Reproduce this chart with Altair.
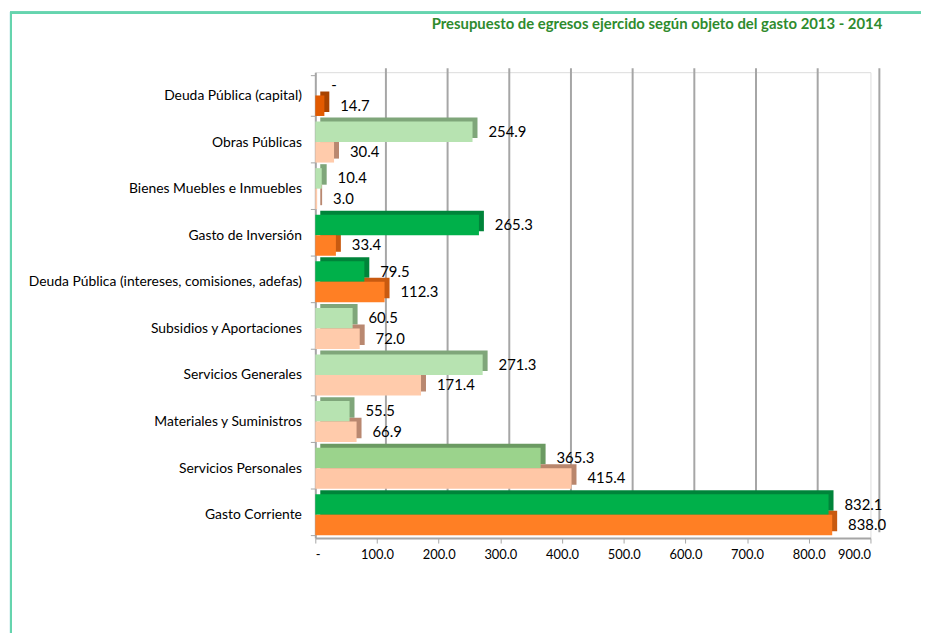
import altair as alt
import pandas as pd

categories = [
    "Deuda Pública (capital)",
    "Obras Públicas",
    "Bienes Muebles e Inmuebles",
    "Gasto de Inversión",
    "Deuda Pública (intereses, comisiones, adefas)",
    "Subsidios y Aportaciones",
    "Servicios Generales",
    "Materiales y Suministros",
    "Servicios Personales",
    "Gasto Corriente",
]
v2013 = [0, 254.9, 10.4, 265.3, 79.5, 60.5, 271.3, 55.5, 365.3, 832.1]
v2014 = [14.7, 30.4, 3.0, 33.4, 112.3, 72.0, 171.4, 66.9, 415.4, 838.0]
tones = ["capital", "light", "light", "dark", "dark", "light", "light", "light", "mid", "dark"]
x_ticks = [0, 100, 200, 300, 400, 500, 600, 700, 800, 900]
title_text = "Presupuesto de egresos ejercido según objeto del gasto 2013 - 2014"

rows = []
for c, a, b, t in zip(categories, v2013, v2014, tones):
    for year, v in (("2013", a), ("2014", b)):
        rows.append(dict(cat=c, year=year, value=v, key=f"{t}-{year}",
                         label="-" if v == 0 else f"{v:.1f}"))
df = pd.DataFrame(rows)
grid_df = pd.DataFrame({"t": x_ticks[1:]})
title_df = pd.DataFrame({"title": [title_text]})

key_domain = ["capital-2013", "capital-2014", "dark-2013", "dark-2014",
              "light-2013", "light-2014", "mid-2013", "mid-2014"]
front_colors = ["#0E7A3C", "#E25A00", "#00B04A", "#FF7F24",
                "#B7E3B1", "#FFCBAB", "#9BD38C", "#FFC7A6"]
side_colors = ["#075A2A", "#A84300", "#00843A", "#C85A10",
               "#7FA67A", "#B98870", "#6B9A62", "#B9866C"]

W, H = 560, 470
FONT = "Lato"
PAD_IN, PAD_OUT = 0.12, 0.06
STEP = H / (len(categories) - PAD_IN + 2 * PAD_OUT)
BAND = STEP * (1 - PAD_IN)
DEPTH_X, DEPTH_Y = 5, 4

xscale = alt.Scale(domain=[0, 900], nice=False, zero=True)
yenc = alt.Y("cat:N", sort=categories,
             scale=alt.Scale(paddingInner=PAD_IN, paddingOuter=PAD_OUT),
             axis=alt.Axis(title=None, labelFont=FONT, labelFontSize=14,
                           labelColor="#000000", tickBand="extent",
                           domainColor="#A6A6A6", domainWidth=2,
                           tickColor="#A6A6A6", tickSize=5, labelPadding=9,
                           labelLimit=400))
yoff_front = alt.YOffset("year:N", sort=["2013", "2014"],
                         scale=alt.Scale(range=[0, BAND]))
yoff_depth = alt.YOffset("year:N", sort=["2013", "2014"],
                         scale=alt.Scale(range=[-DEPTH_Y, BAND - DEPTH_Y]))

grid = alt.Chart(grid_df).mark_rule(color="#A6A6A6", strokeWidth=2, xOffset=9).encode(
    x=alt.X("t:Q", scale=xscale),
    y=alt.value(-4),
    y2=alt.value(H - 6),
)

depth = alt.Chart(df).mark_bar(xOffset=DEPTH_X).encode(
    y=yenc,
    yOffset=yoff_depth,
    x=alt.X("value:Q", scale=xscale),
    color=alt.Color("key:N", scale=alt.Scale(domain=key_domain, range=side_colors), legend=None),
)

front = alt.Chart(df).mark_bar().encode(
    y=yenc,
    yOffset=yoff_front,
    x=alt.X("value:Q", scale=xscale,
            axis=alt.Axis(title=None, values=x_ticks, grid=False,
                          labelExpr="datum.value == 0 ? '-' : format(datum.value, '.1f')",
                          labelFont=FONT, labelFontSize=13, labelColor="#000000",
                          domainColor="#A6A6A6", domainWidth=2, tickColor="#A6A6A6",
                          tickSize=5, labelPadding=6)),
    fill=alt.Fill("key:N", scale=alt.Scale(domain=key_domain, range=front_colors), legend=None),
)

text = alt.Chart(df).mark_text(align="left", baseline="middle", dx=16, font=FONT,
                               fontSize=15, color="#000000").encode(
    y=yenc,
    yOffset=yoff_front,
    x=alt.X("value:Q", scale=xscale),
    text="label:N",
)

title = alt.Chart(title_df).mark_text(align="right", baseline="alphabetic", font=FONT,
                                      fontSize=15, fontWeight="bold", color="#2E8B2E").encode(
    x=alt.value(W + 12), y=alt.value(-44), text="title:N")

frame_top = alt.Chart(grid_df).mark_rule(color="#66D4AE", strokeWidth=2).encode(
    x=alt.value(-308), x2=alt.value(700), y=alt.value(-60))
frame_left = alt.Chart(grid_df).mark_rule(color="#66D4AE", strokeWidth=2).encode(
    x=alt.value(-307), y=alt.value(-60), y2=alt.value(700))

chart = alt.layer(grid, depth, front, text, title, frame_top, frame_left).resolve_scale(
    color="independent", fill="independent", yOffset="independent"
).properties(
    width=W, height=H,
    autosize="none",
    padding={"left": 310, "top": 62, "right": 51, "bottom": 93},
).configure_view(stroke=None).configure(background="#FFFFFF")

chart.save("out.html", embed_options={"renderer": "svg", "actions": False})
